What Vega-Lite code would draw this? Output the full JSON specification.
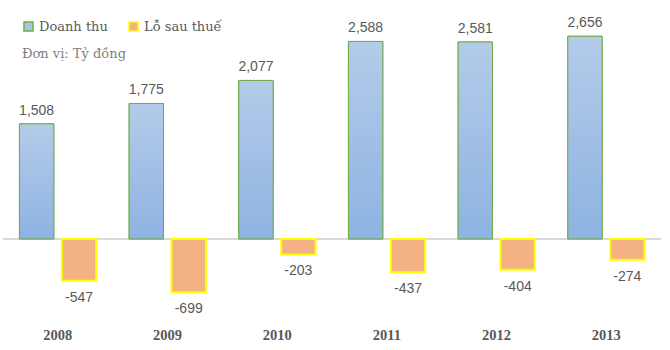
{
  "$schema": "https://vega.github.io/schema/vega-lite/v6.json",
  "width": 658,
  "height": 290,
  "autosize": {"type": "none"},
  "padding": {"left": 3, "top": 10, "right": 9, "bottom": 50},
  "background": "white",
  "config": {
    "view": {"stroke": null},
    "locale": {"number": {"decimal": ".", "thousands": ",", "grouping": [3], "currency": ["$", ""], "minus": "-"}}
  },
  "data": {
    "values": [
      {"year": "2008", "series": "Doanh thu", "value": 1508},
      {"year": "2008", "series": "Lỗ sau thuế", "value": -547},
      {"year": "2009", "series": "Doanh thu", "value": 1775},
      {"year": "2009", "series": "Lỗ sau thuế", "value": -699},
      {"year": "2010", "series": "Doanh thu", "value": 2077},
      {"year": "2010", "series": "Lỗ sau thuế", "value": -203},
      {"year": "2011", "series": "Doanh thu", "value": 2588},
      {"year": "2011", "series": "Lỗ sau thuế", "value": -437},
      {"year": "2012", "series": "Doanh thu", "value": 2581},
      {"year": "2012", "series": "Lỗ sau thuế", "value": -404},
      {"year": "2013", "series": "Doanh thu", "value": 2656},
      {"year": "2013", "series": "Lỗ sau thuế", "value": -274}
    ]
  },
  "layer": [
    {
      "mark": {"type": "rule", "color": "#d9d9d9", "strokeWidth": 1},
      "encoding": {"y": {"datum": 0, "type": "quantitative", "scale": {"domain": [-800, 3000], "nice": false, "zero": false}, "axis": null}}
    },
    {
      "mark": {"type": "bar"},
      "encoding": {
        "x": {"field": "year", "type": "ordinal", "scale": {"paddingInner": 0.3, "paddingOuter": 0.15},
          "axis": {"title": null, "domain": false, "ticks": false, "labelAngle": 0, "labelPadding": 28, "labelFont": "Liberation Serif", "labelFontWeight": "bold", "labelFontSize": 14.5, "labelColor": "#595959"}},
        "xOffset": {"field": "series", "type": "nominal", "scale": {"domain": ["Doanh thu", "Lỗ sau thuế"], "paddingInner": 0.19, "paddingOuter": 0}},
        "y": {"field": "value", "type": "quantitative", "scale": {"domain": [-800, 3000], "nice": false, "zero": false}, "axis": null},
        "fill": {"field": "series", "type": "nominal",
          "scale": {"domain": ["Doanh thu", "Lỗ sau thuế"], "range": ["#a9c4e7", "#f4b183"]},
          "legend": {
            "orient": "none", "legendX": 19, "legendY": 10, "direction": "horizontal",
            "symbolType": "square", "symbolSize": 81, "symbolStrokeWidth": 1.5,
            "labelFont": "DejaVu Serif", "labelFontSize": 13, "labelColor": "#595959", "labelOffset": 4,
            "columnPadding": 18,
            "title": "Đơn vị: Tỷ đồng", "titleOrient": "bottom", "titleAnchor": "start", "titlePadding": 14,
            "titleFont": "DejaVu Serif", "titleFontSize": 13, "titleFontWeight": "normal", "titleColor": "#7f7f7f"
          }},
        "stroke": {"field": "series", "type": "nominal",
          "scale": {"domain": ["Doanh thu", "Lỗ sau thuế"], "range": ["#70ad47", "#ffff00"]},
          "legend": {
            "orient": "none", "legendX": 19, "legendY": 10, "direction": "horizontal",
            "symbolType": "square", "symbolSize": 81, "symbolStrokeWidth": 1.5,
            "labelFont": "DejaVu Serif", "labelFontSize": 13, "labelColor": "#595959", "labelOffset": 4,
            "columnPadding": 18,
            "title": "Đơn vị: Tỷ đồng", "titleOrient": "bottom", "titleAnchor": "start", "titlePadding": 14,
            "titleFont": "DejaVu Serif", "titleFontSize": 13, "titleFontWeight": "normal", "titleColor": "#7f7f7f"
          }},
        "strokeWidth": {"condition": {"test": "datum.series === 'Doanh thu'", "value": 1}, "value": 2}
      }
    },
    {
      "transform": [{"filter": "datum.series === 'Doanh thu'"}],
      "mark": {"type": "bar", "stroke": "#70ad47", "strokeWidth": 1,
        "fill": {"gradient": "linear", "x1": 0, "y1": 0, "x2": 0, "y2": 1,
          "stops": [{"offset": 0, "color": "#b4cbe9"}, {"offset": 1, "color": "#8eb3e2"}]}},
      "encoding": {
        "x": {"field": "year", "type": "ordinal"},
        "xOffset": {"field": "series", "type": "nominal"},
        "y": {"field": "value", "type": "quantitative"}
      }
    },
    {
      "transform": [{"filter": "datum.value >= 0"}],
      "mark": {"type": "text", "baseline": "bottom", "dy": -6, "font": "Liberation Sans", "fontSize": 14, "color": "#595959"},
      "encoding": {
        "x": {"field": "year", "type": "ordinal"},
        "xOffset": {"field": "series", "type": "nominal"},
        "y": {"field": "value", "type": "quantitative"},
        "text": {"field": "value", "type": "quantitative", "format": ",d"}
      }
    },
    {
      "transform": [{"filter": "datum.value < 0"}],
      "mark": {"type": "text", "baseline": "top", "dy": 10, "font": "Liberation Sans", "fontSize": 14, "color": "#595959"},
      "encoding": {
        "x": {"field": "year", "type": "ordinal"},
        "xOffset": {"field": "series", "type": "nominal"},
        "y": {"field": "value", "type": "quantitative"},
        "text": {"field": "value", "type": "quantitative", "format": ",d"}
      }
    }
  ]
}
